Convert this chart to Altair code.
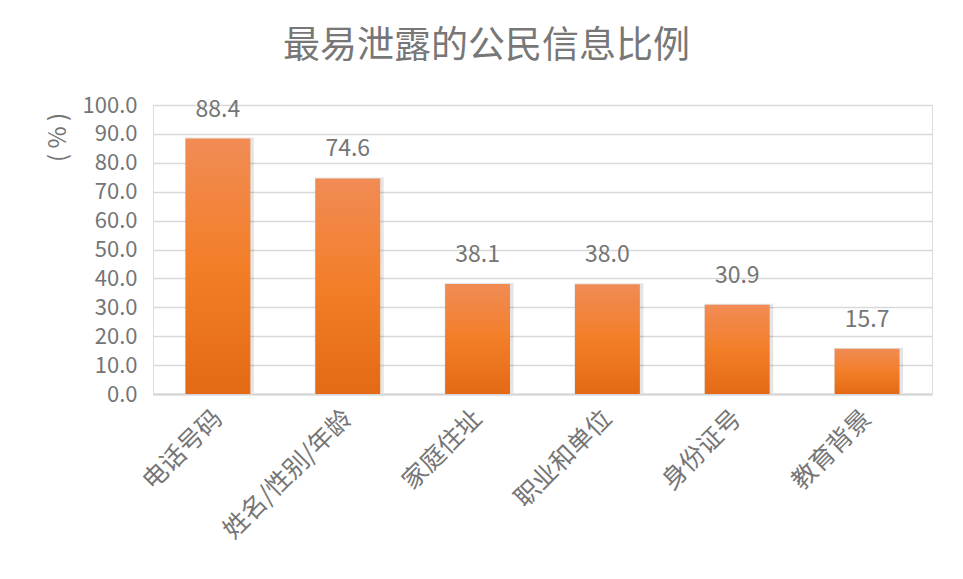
import altair as alt
import pandas as pd

categories = ["电话号码", "姓名/性别/年龄", "家庭住址", "职业和单位", "身份证号", "教育背景"]
values = [88.4, 74.6, 38.1, 38.0, 30.9, 15.7]
y_ticks = [0, 10, 20, 30, 40, 50, 60, 70, 80, 90, 100]

df = pd.DataFrame({"category": categories, "value": values})

FONT = "Noto Sans CJK SC"
GRAY = "#757575"

x_enc = alt.X(
    "category:N",
    sort=categories,
    scale=alt.Scale(paddingInner=0.5, paddingOuter=0.25),
    axis=alt.Axis(
        title=None,
        labelAngle=-45,
        labelAlign="right",
        labelBaseline="middle",
        labelFontSize=25,
        labelColor=GRAY,
        labelFont=FONT,
        labelPadding=20,
        ticks=False,
        domainColor="#d4d4d4",
        domainWidth=2,
        labelOverlap=False,
    ),
)
y_enc = alt.Y(
    "value:Q",
    scale=alt.Scale(domain=[0, 100], nice=False),
    axis=alt.Axis(
        title="( % )",
        titleFontSize=24,
        titleFontWeight="normal",
        titleColor=GRAY,
        titleFont=FONT,
        titleAngle=-90,
        titleAlign="center",
        titleBaseline="middle",
        titleX=-95,
        titleY=32,
        values=y_ticks,
        format=".1f",
        labelFontSize=22,
        labelColor=GRAY,
        labelFont=FONT,
        labelPadding=16,
        ticks=False,
        domain=False,
        gridColor="#d9d9d9",
        gridWidth=1.5,
    ),
)

shadow = alt.Chart(df).mark_bar(
    color="#000000", opacity=0.10, size=69, xOffset=1.5, yOffset=-1
).encode(x=x_enc, y=y_enc)

bars = alt.Chart(df).mark_bar(
    color=alt.Gradient(
        gradient="linear",
        x1=0, x2=0, y1=0, y2=1,
        stops=[
            alt.GradientStop(color="#F18C55", offset=0),
            alt.GradientStop(color="#F37E28", offset=0.5),
            alt.GradientStop(color="#E46A15", offset=1),
        ],
    )
).encode(x=x_enc, y=y_enc)

labels = alt.Chart(df).mark_text(
    baseline="alphabetic", dy=-22, fontSize=23, color=GRAY, font=FONT
).encode(x=x_enc, y=y_enc, text=alt.Text("value:Q", format=".1f"))

chart = (
    alt.layer(shadow, bars, labels)
    .properties(
        width=779,
        height=289,
        autosize=alt.AutoSizeParams(type="none"),
        padding={"left": 145, "top": 97, "right": 20, "bottom": 170},
        title=alt.TitleParams(
            "最易泄露的公民信息比例",
            fontSize=37,
            fontWeight="normal",
            color="#777777",
            font=FONT,
            anchor="middle",
            dx=-56,
            offset=28,
        ),
    )
    .configure_view(stroke=None)
    .configure(background="white")
)

chart.save("out.html", embed_options={"renderer": "svg", "actions": False})
